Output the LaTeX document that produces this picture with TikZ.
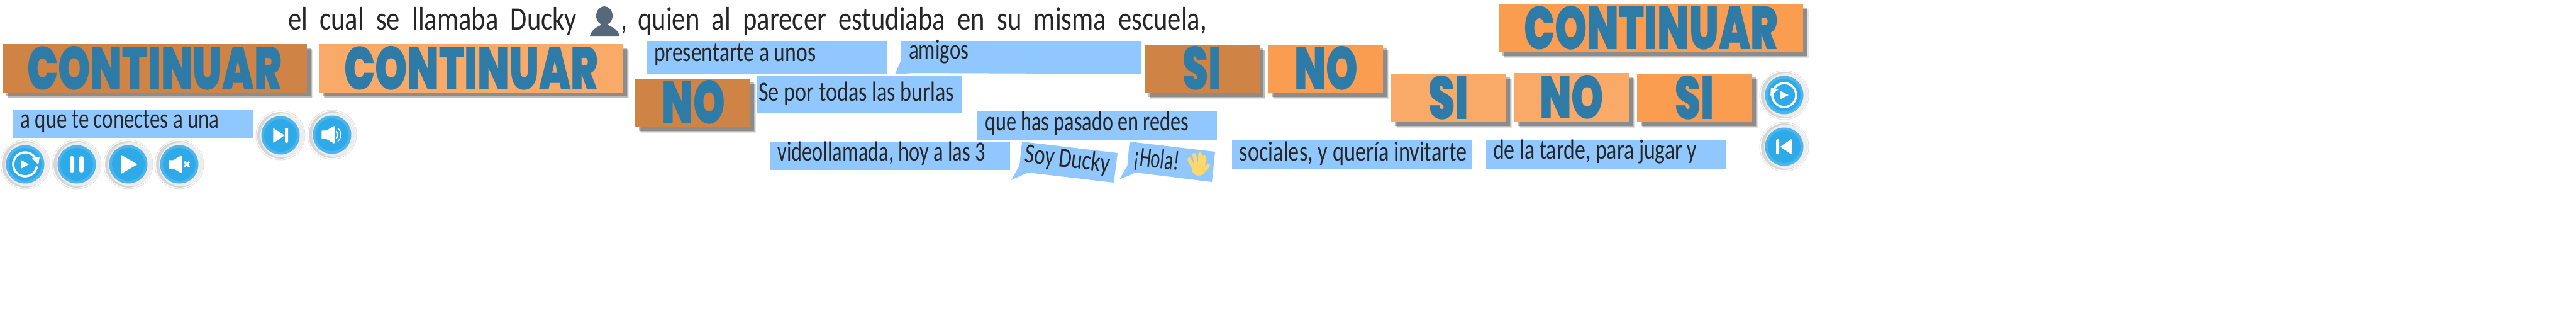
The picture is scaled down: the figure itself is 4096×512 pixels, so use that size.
\documentclass[tikz,border=0pt]{standalone}
\usepackage{graphicx}
\usepackage{fontspec}
\setmainfont{Carlito}
\newfontfamily\chunky{Poppins Black}
\definecolor{pressed}{HTML}{CF8344}
\definecolor{lightor}{HTML}{F9A968}
\definecolor{midor}{HTML}{FB9D51}
\definecolor{inkblue}{HTML}{2E7BA7}
\definecolor{boxblue}{HTML}{90C7FF}
\definecolor{btncore}{HTML}{2EAAE9}
\definecolor{btnring}{HTML}{4DB5EC}
\definecolor{inkdark}{HTML}{262626}
\definecolor{personc}{HTML}{56697A}
\definecolor{handc}{HTML}{FFD76A}
\tikzset{
  boxtext/.style={anchor=base west,inner sep=0pt,text=inkdark,font=\fontsize{44}{44}\selectfont},
  titletext/.style={anchor=base west,inner sep=0pt,text=inkdark,font=\fontsize{52}{52}\selectfont},
  chunktext/.style={anchor=base west,inner sep=0pt,text=inkblue,font=\chunky\fontsize{96}{96}\selectfont},
  iconf/.style={fill=white,draw=white,line join=round,line width=1.5pt},
  iconl/.style={draw=white,line width=3.5pt},
}
% name, x, baseline, width, text
\newcommand\boxtxt[5]{\node[boxtext] (#1) at (#2,#3) {\resizebox{#4pt}{\height}{#5}};}
\newcommand\titletxt[5]{\node[titletext] (#1) at (#2,#3) {\resizebox{#4pt}{\height}{#5}};}
\newcommand\chunktxt[5]{\node[chunktext] (#1) at (#2,#3) {\resizebox{#4pt}{\height}{#5}};}
% x1,y1,x2,y2
\newcommand\bluebox[4]{\fill[boxblue] (#1,#2) rectangle (#3,#4);}
% x1,y1,x2,y2,colour
\newcommand\orbg[5]{%
  \fill[black,opacity=.10] (#1+9,#2+9) rectangle (#3+9,#4+9);%
  \fill[black,opacity=.18] (#1+7.5,#2+7.5) rectangle (#3+7.5,#4+7.5);%
  \fill[black,opacity=.25] (#1+6,#2+6) rectangle (#3+6,#4+6);%
  \fill[#5] (#1,#2) rectangle (#3,#4);}
% name,x,y
\newcommand\btnbase[3]{%
  \fill[black!12] (#2,#3) circle (39.5);%
  \fill[white] (#2,#3) circle (38.5);%
  \fill[black!16] (#2,#3) circle (37);%
  \fill[black!7] (#2+3,#3) circle (35);%
  \fill[btnring] (#2,#3) circle (30.5);%
  \node[circle,fill=btncore,minimum size=52pt,inner sep=0pt] (#1) at (#2,#3) {};}
\begin{document}
\begin{tikzpicture}[x=1pt,y=-1pt]
\useasboundingbox (0,0) rectangle (4096,512);
\fill[white] (0,0) rectangle (4096,512);

% title
\titletxt{t1}{458}{47}{459}{el\ \ cual\ \ se\ \ llamaba\ \ Ducky}
\begin{scope}[personc]
  \fill[personc] (961,25) ellipse (13 and 15);
  \fill[personc] (938,57) .. controls (941,46) and (950,43) .. (955,40) -- (967,40) .. controls (973,43) and (982,46) .. (985,57) -- cycle;
\end{scope}
\titletxt{t2}{988}{47}{8}{,}
\titletxt{t3}{1014}{47}{905}{quien\ \ al\ \ parecer\ \ estudiaba\ \ en\ \ su\ \ misma\ \ escuela,}

% orange buttons
\orbg{4}{70}{488}{147}{pressed}
\chunktxt{c1}{43}{142}{405}{CONTINUAR}
\orbg{507.5}{70}{991}{147}{lightor}
\chunktxt{c2}{547}{142}{404}{CONTINUAR}
\orbg{2383}{6}{2866.5}{83}{midor}
\chunktxt{c3}{2423}{78}{404}{CONTINUAR}
\orbg{1010}{125}{1192.5}{202}{pressed}
\chunktxt{n1}{1052}{196}{101}{NO}
\orbg{1820}{71}{2003}{148}{pressed}
\chunktxt{s1}{1880}{142}{62}{SI}
\orbg{2016}{71}{2199}{148}{midor}
\chunktxt{n2}{2058}{142}{101}{NO}
\orbg{2212}{117}{2395}{194}{lightor}
\chunktxt{s2}{2271}{189}{64}{SI}
\orbg{2408}{116}{2590}{194}{lightor}
\chunktxt{n3}{2448}{188}{102}{NO}
\orbg{2603}{117}{2786}{194}{midor}
\chunktxt{s3}{2663}{189}{62}{SI}

% blue text boxes
\bluebox{21}{175}{403}{219}
\boxtxt{b1}{32.5}{203}{316}{a que te conectes a una}
\bluebox{1029}{65}{1411}{118}
\boxtxt{b2}{1040}{97}{257}{presentarte a unos}
\fill[boxblue] (1433,65) -- (1815,65) -- (1815,117.5) -- (1452,116) -- (1423,118) -- (1433,95) -- cycle;
\boxtxt{b3}{1445}{93}{95}{amigos}
\bluebox{1203}{120}{1530}{179}
\boxtxt{b4}{1206}{160}{311}{Se por todas las burlas}
\bluebox{1554}{176}{1935}{223}
\boxtxt{b5}{1566}{207}{324}{que has pasado en redes}
\bluebox{1224}{225}{1606}{270}
\boxtxt{b6}{1236.5}{255}{330}{videollamada, hoy a las 3}
\bluebox{1958.6}{222}{2340}{269}
\boxtxt{b7}{1970.5}{255}{362}{sociales, y quería invitarte}
\bluebox{2363}{222}{2745}{269}
\boxtxt{b8}{2374}{252}{324}{de la tarde, para jugar y}

% speech bubbles
\fill[boxblue] (1625,225) -- (1777,243) -- (1771,290) -- (1634,274) -- (1608,286) -- (1621,263) -- cycle;
\node[boxtext,anchor=center,rotate=-7] (sd) at (1697,254) {\resizebox{136pt}{\height}{Soy Ducky}};
\fill[boxblue] (1796,225) -- (1932,241) -- (1927,289) -- (1806,274) -- (1780,285) -- (1792.5,263) -- cycle;
\node[boxtext,anchor=center,rotate=-7] (ho) at (1839,255) {\resizebox{72pt}{\height}{¡Hola!}};
\begin{scope}[shift={(1905,262)}]
  \fill[handc] (1,6) ellipse (11 and 11);
  \draw[handc,line width=6pt,line cap=round] (-8,3) -- (-14,-9);
  \draw[handc,line width=6pt,line cap=round] (-3,0) -- (-6,-16);
  \draw[handc,line width=6pt,line cap=round] (3,0) -- (3,-17);
  \draw[handc,line width=6pt,line cap=round] (8,2) -- (10,-13);
  \draw[handc,line width=6pt,line cap=round] (9,9) -- (16,1);
\end{scope}

% round buttons
\btnbase{r1}{40}{261}
\begin{scope}[shift={(40,261)}]
  \draw[iconl] (10:19) arc (10:335:19);
  \fill[white] (11,-10) -- (23,-12) -- (21,1) -- cycle;
  \fill[white] (-6,-6.5) -- (6,0) -- (-6,6.5) -- cycle;
\end{scope}
\btnbase{r2}{122}{261}
\begin{scope}[shift={(122,261)}]
  \fill[white,rounded corners=3pt] (-11,-13) rectangle (-4,13);
  \fill[white,rounded corners=3pt] (4,-13) rectangle (11,13);
\end{scope}
\btnbase{r3}{204}{261}
\begin{scope}[shift={(204,261)}]
  \draw[iconf] (-11,-14) -- (13,0) -- (-11,14) -- cycle;
\end{scope}
\btnbase{r4}{285}{261}
\begin{scope}[shift={(285,261)}]
  \draw[iconf] (-16,-6) -- (-9,-6) -- (3,-13) -- (3,13) -- (-9,6) -- (-16,6) -- cycle;
  \draw[white,line width=3pt] (8,-4) -- (16,4) (16,-4) -- (8,4);
\end{scope}
\btnbase{r5}{446}{215}
\begin{scope}[shift={(446,215)}]
  \draw[iconf] (-11,-10.5) -- (5,0) -- (-11,11) -- cycle;
  \fill[white,rounded corners=1.5pt] (7,-12) rectangle (12,12);
\end{scope}
\btnbase{r6}{528}{214}
\begin{scope}[shift={(528,214)}]
  \draw[iconf] (-16,-6) -- (-9,-6) -- (3,-13) -- (3,13) -- (-9,6) -- (-16,6) -- cycle;
  \draw[white,line width=1.5pt] (-45:9) arc (-45:45:9);
  \draw[white,line width=1.5pt] (-50:14) arc (-50:50:14);
\end{scope}
\btnbase{r7}{2837}{151}
\begin{scope}[shift={(2837,151)}]
  \draw[iconl] (200:19) arc (200:-145:19);
  \fill[white] (-21,-12) -- (-9,-9) -- (-22,1) -- cycle;
  \fill[white] (-6,-6.5) -- (7,0) -- (-6,6.5) -- cycle;
\end{scope}
\btnbase{r8}{2837}{233}
\begin{scope}[shift={(2837,233)}]
  \fill[white,rounded corners=1.5pt] (-13,-12) rectangle (-8,12);
  \draw[iconf] (11,-11) -- (-5,0) -- (11,11) -- cycle;
\end{scope}
\end{tikzpicture}
\end{document}
